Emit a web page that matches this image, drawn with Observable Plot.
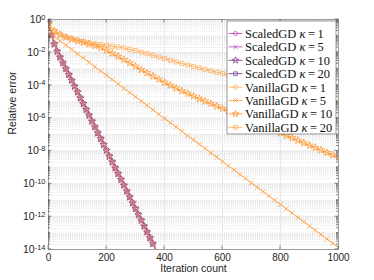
<!DOCTYPE html>
<html><head><meta charset="utf-8">
<script src="https://cdn.jsdelivr.net/npm/d3@7"></script>
<script src="https://cdn.jsdelivr.net/npm/@observablehq/plot@0.6"></script>
<style>body{margin:0;background:#fff}#chart{width:374px;height:280px}</style>
</head><body><div id="chart"></div>
<script>
// iteration counts
const iterScaled = [0,10,20,30,40,50,60,70,80,90,100,110,120,130,140,150,160,170,180,190,200,210,220,230,240,250,260,270,280,290,300,310,320,330,340,350,360,370,380];
const iterVanilla = [0,20,40,60,80,100,120,140,160,180,200,220,240,260,280,300,320,340,360,380,400,420,440,460,480,500,520,540,560,580,600,620,640,660,680,700,720,740,760,780,800,820,840,860,880,900,920,940,960,980,1000];
// log10 of relative error
const scaledLog = [-0.2,-0.95,-1.5,-1.95,-2.3,-2.65,-3.0,-3.36,-3.71,-4.07,-4.42,-4.78,-5.13,-5.49,-5.84,-6.2,-6.55,-6.91,-7.26,-7.62,-7.97,-8.33,-8.68,-9.04,-9.39,-9.75,-10.1,-10.46,-10.81,-11.17,-11.52,-11.88,-12.23,-12.59,-12.94,-13.3,-13.65,-14.01,-14.36];
const vanilla5Log = [-0.3,-1.04,-1.3,-1.57,-1.83,-2.09,-2.35,-2.61,-2.88,-3.14,-3.4,-3.66,-3.92,-4.19,-4.45,-4.71,-4.97,-5.23,-5.5,-5.76,-6.02,-6.28,-6.54,-6.81,-7.07,-7.33,-7.59,-7.85,-8.12,-8.38,-8.64,-8.9,-9.16,-9.43,-9.69,-9.95,-10.21,-10.47,-10.74,-11.0,-11.26,-11.52,-11.78,-12.05,-12.31,-12.57,-12.83,-13.09,-13.36,-13.62,-13.88];
const vanilla10Log = [-0.3,-0.7,-0.92,-1.08,-1.2,-1.3,-1.4,-1.5,-1.6,-1.71,-1.88,-2.06,-2.25,-2.45,-2.65,-2.85,-3.05,-3.25,-3.45,-3.64,-3.83,-4.01,-4.18,-4.35,-4.51,-4.67,-4.82,-4.97,-5.12,-5.27,-5.42,-5.57,-5.72,-5.87,-6.02,-6.16,-6.31,-6.46,-6.61,-6.76,-6.91,-7.06,-7.21,-7.36,-7.51,-7.66,-7.8,-7.95,-8.1,-8.25,-8.4];
const vanilla20Log = [-0.3,-0.7,-0.9,-1.05,-1.17,-1.27,-1.35,-1.42,-1.48,-1.53,-1.58,-1.63,-1.68,-1.74,-1.81,-1.89,-1.98,-2.08,-2.18,-2.28,-2.38,-2.48,-2.58,-2.68,-2.77,-2.86,-2.95,-3.03,-3.12,-3.21,-3.29,-3.38,-3.47,-3.55,-3.64,-3.73,-3.82,-3.9,-3.99,-4.08,-4.16,-4.25,-4.34,-4.43,-4.51,-4.6,-4.69,-4.77,-4.86,-4.95,-5.03];

const methods = ["ScaledGD","ScaledGD","ScaledGD","ScaledGD","VanillaGD","VanillaGD","VanillaGD","VanillaGD"];
const kappas = [1,5,10,20,1,5,10,20];
const colors = ["#c040c0","#a848b8","#7e2f8e","#6e3096","#ffa550","#ff9933","#ff8c1a","#ffa64d"];
const symbols = ["circle","times","star","square","circle","times","star","square"];
const xTicks = [0,200,400,600,800,1000];
const yTicks = [1,1e-2,1e-4,1e-6,1e-8,1e-10,1e-12,1e-14];

const seriesIters = [iterScaled,iterScaled,iterScaled,iterScaled,iterScaled,iterVanilla,iterVanilla,iterVanilla];
const seriesLogs = [scaledLog,scaledLog,scaledLog,scaledLog,scaledLog,vanilla5Log,vanilla10Log,vanilla20Log];
const tables = seriesLogs.map((L,i) => L.map((v,j) => ({it: seriesIters[i][j], err: Math.pow(10, v)})));

// minor grid positions for the log axis
const yMinor = [];
for (let k = -14; k < 0; k++) for (let m = 1; m < 10; m++) {
  const v = m * Math.pow(10, k);
  if (!(m === 1 && k % 2 === 0)) yMinor.push(v);
}

const marks = [
  Plot.ruleY(yMinor, {stroke: "#cfcfcf", strokeWidth: 0.6, strokeDasharray: "1,1.2"}),
  Plot.ruleY(yTicks, {stroke: "#dedede", strokeWidth: 0.7}),
  Plot.ruleX(xTicks, {stroke: "#dedede", strokeWidth: 0.7})
];
tables.forEach((t,i) => {
  marks.push(Plot.line(t, {x: "it", y: "err", stroke: colors[i], strokeWidth: 0.8, clip: true}));
  marks.push(Plot.dot(t.filter(d => d.err >= 1e-14), {x: "it", y: "err", stroke: colors[i], fill: "none", symbol: symbols[i], r: 2.3, strokeWidth: 0.7, clip: true}));
});
marks.push(Plot.frame({stroke: "#8a8a8a", strokeWidth: 0.8}));
marks.push(Plot.axisX(xTicks, {tickSize: 0, tickPadding: 4, label: null, fontSize: 10, tickFormat: d => String(d)}));
marks.push(Plot.axisY(yTicks, {tickSize: 0, tickPadding: 3, label: null, fontSize: 10.5, tickFormat: d => "10^" + Math.round(Math.log10(d))}));
marks.push(Plot.text(["Iteration count"], {frameAnchor: "bottom", dy: 22.5, fontSize: 10.5}));
marks.push(Plot.text(["Relative error"], {frameAnchor: "left", dx: -36, rotate: -90, fontSize: 10.5}));

const plot = Plot.plot({
  width: 374, height: 280,
  marginLeft: 48, marginRight: 36, marginTop: 19, marginBottom: 31,
  style: {background: "white", fontFamily: "'Liberation Sans', Arial, sans-serif", color: "#262626"},
  x: {domain: [0, 1000]},
  y: {type: "log", domain: [1e-14, 1]},
  marks
});
document.getElementById("chart").appendChild(plot);

const svg = d3.select(plot);
// superscript exponents on y tick labels
svg.selectAll('g[aria-label="y-axis tick label"] text').each(function() {
  const s = this.textContent.split("^");
  const t = d3.select(this);
  t.text(s[0]);
  t.append("tspan").attr("dy", "-0.45em").attr("font-size", "7.5px").text(s[1]);
});
// inward ticks on all four sides
const sx = plot.scale("x"), sy = plot.scale("y");
const x0 = sx.range[0], x1 = sx.range[1], y0 = sy.range[0], y1 = sy.range[1];
const tg = svg.append("g").attr("stroke", "#555").attr("stroke-width", 0.7);
yTicks.forEach(v => { const y = sy.apply(v);
  tg.append("line").attr("x1", x0).attr("x2", x0 + 3.5).attr("y1", y).attr("y2", y);
  tg.append("line").attr("x1", x1).attr("x2", x1 - 3.5).attr("y1", y).attr("y2", y); });
yMinor.forEach(v => { const y = sy.apply(v);
  tg.append("line").attr("x1", x0).attr("x2", x0 + 2).attr("y1", y).attr("y2", y);
  tg.append("line").attr("x1", x1).attr("x2", x1 - 2).attr("y1", y).attr("y2", y); });
xTicks.forEach(v => { const x = sx.apply(v);
  tg.append("line").attr("x1", x).attr("x2", x).attr("y1", y0).attr("y2", y0 - 3.5);
  tg.append("line").attr("x1", x).attr("x2", x).attr("y1", y1).attr("y2", y1 + 3.5); });

// legend
const symMap = {circle: d3.symbolCircle, times: d3.symbolTimes, star: d3.symbolStar, square: d3.symbolSquare};
const lg = svg.append("g").attr("transform", "translate(227,21)").attr("text-anchor", "start");
lg.append("rect").attr("width", 109).attr("height", 113).attr("fill", "white").attr("stroke", "#555").attr("stroke-width", 0.6);
methods.forEach((m, i) => {
  const y = 12.5 + i * 13.4;
  lg.append("line").attr("x1", 1.5).attr("x2", 15.5).attr("y1", y).attr("y2", y).attr("stroke", colors[i]).attr("stroke-width", 0.8);
  lg.append("path").attr("d", d3.symbol(symMap[symbols[i]], Math.PI * 2.1 * 2.1)()).attr("transform", `translate(8.5,${y})`).attr("fill", "none").attr("stroke", colors[i]).attr("stroke-width", 0.7);
  const t = lg.append("text").attr("x", 18).attr("y", y).attr("dy", "0.36em").attr("text-anchor", "start").attr("font-family", "'Liberation Serif', 'DejaVu Serif', serif").attr("font-size", "12.5px").attr("fill", "#111");
  t.text(m + "\u00A0");
  t.append("tspan").attr("font-style", "italic").text("κ");
  t.append("tspan").text("\u2009=\u2009" + kappas[i]);
});
</script></body></html>
